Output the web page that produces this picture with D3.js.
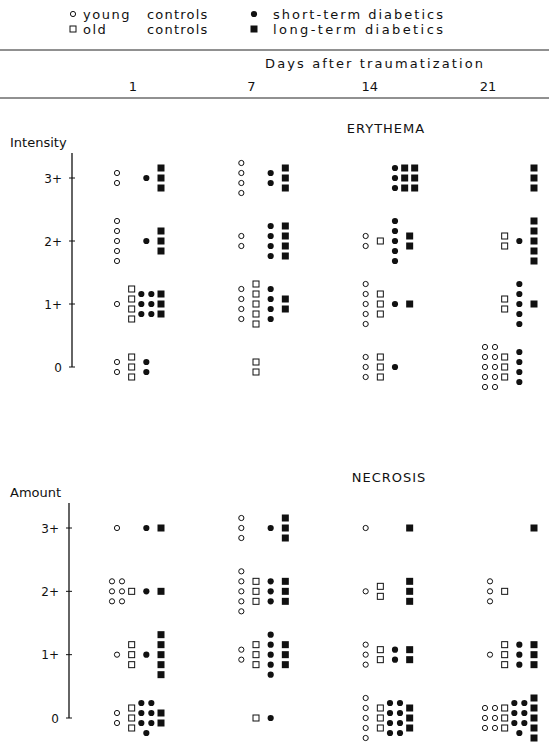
<!DOCTYPE html>
<html>
<head>
<meta charset="utf-8">
<script src="https://cdn.jsdelivr.net/npm/d3@7"></script>
<style>
  body { margin: 0; background: #fff; }
  text { font-family: "DejaVu Sans", sans-serif; fill: #111; }
</style>
</head>
<body>
<div id="chart"></div>
<script>
const width = 549, height = 754;

// categories
const days = ["1", "7", "14", "21"];
const levels = [0, 1, 2, 3];
const levelLabels = ["0", "1+", "2+", "3+"];
const groups = ["young", "old", "short", "long"];

// number of animals per day (rows) and score 0,1+,2+,3+ (columns)
const eryYoung = [[2, 1, 5, 2], [0, 4, 2, 4], [3, 5, 2, 0], [10, 0, 0, 0]];
const eryOld   = [[3, 4, 0, 0], [2, 5, 0, 0], [3, 3, 1, 0], [3, 2, 2, 0]];
const eryShort = [[2, 6, 1, 1], [0, 4, 4, 2], [1, 1, 5, 3], [4, 5, 1, 0]];
const eryLong  = [[0, 3, 3, 3], [0, 2, 4, 3], [0, 1, 2, 6], [0, 1, 5, 3]];

const necYoung = [[2, 1, 6, 1], [0, 2, 5, 3], [5, 3, 1, 1], [6, 1, 3, 0]];
const necOld   = [[3, 3, 1, 0], [1, 3, 3, 0], [3, 2, 2, 0], [3, 3, 1, 0]];
const necShort = [[7, 1, 1, 1], [1, 5, 3, 1], [8, 2, 0, 0], [7, 3, 0, 0]];
const necLong  = [[2, 5, 1, 1], [0, 3, 3, 3], [3, 2, 3, 1], [5, 3, 0, 1]];

const svg = d3.select("#chart").append("svg")
    .attr("width", width)
    .attr("height", height);

svg.append("rect").attr("width", width).attr("height", height).attr("fill", "#fff");

// Scales
const xDay = d3.scalePoint().domain(days).range([139, 512]);
const xGroup = d3.scalePoint().domain(groups).range([-22, 22]);
const xHead = d3.scalePoint().domain(days).range([133, 488]);
const gap = 10;

// Legend
const legendItems = [
    { g: "young", words: ["young", "controls"], x: 73, y: 14 },
    { g: "old", words: ["old", "controls"], x: 73, y: 29 },
    { g: "short", words: ["short-term diabetics"], x: 254, y: 14 },
    { g: "long", words: ["long-term diabetics"], x: 254, y: 29 }
];

function drawMark(sel, g) {
    if (g === "young") {
        sel.append("circle").attr("r", 2.6).attr("fill", "#fff").attr("stroke", "#111").attr("stroke-width", 1);
    } else if (g === "short") {
        sel.append("circle").attr("r", 3.1).attr("fill", "#111");
    } else if (g === "old") {
        sel.append("rect").attr("x", -3).attr("y", -3).attr("width", 6).attr("height", 6)
            .attr("fill", "#fff").attr("stroke", "#111").attr("stroke-width", 1);
    } else {
        sel.append("rect").attr("x", -3.5).attr("y", -3.5).attr("width", 7).attr("height", 7).attr("fill", "#111");
    }
}

legendItems.forEach(d => {
    const row = svg.append("g");
    drawMark(row.append("g").attr("transform", `translate(${d.x},${d.y})`), d.g);
    if (d.words.length === 2) {
        row.append("text").attr("x", d.x + 10).attr("y", d.y + 4.5)
            .attr("font-size", 13).attr("letter-spacing", 1.5).text(d.words[0]);
        row.append("text").attr("x", d.x + 74).attr("y", d.y + 4.5)
            .attr("font-size", 13).attr("letter-spacing", 1.2).text(d.words[1]);
    } else {
        row.append("text").attr("x", d.x + 19).attr("y", d.y + 4.5)
            .attr("font-size", 13).attr("textLength", 170).text(d.words[0]);
    }
});

// Header rules and day labels
svg.append("line").attr("x1", 0).attr("x2", width).attr("y1", 50).attr("y2", 50)
    .attr("stroke", "#222").attr("stroke-width", 1);
svg.append("line").attr("x1", 0).attr("x2", width).attr("y1", 98).attr("y2", 98)
    .attr("stroke", "#222").attr("stroke-width", 1);
svg.append("text").attr("x", 265).attr("y", 68).attr("font-size", 13)
    .attr("textLength", 218).text("Days after traumatization");
svg.selectAll(".day").data(days).join("text")
    .attr("class", "day")
    .attr("x", d => xHead(d)).attr("y", 91)
    .attr("text-anchor", "middle").attr("font-size", 13)
    .text(d => d);

// Dot arrangement inside one cell: up to 5 in a column, otherwise two columns
function arrange(n) {
    const cols = n > 5 ? 2 : 1;
    const rows = Math.ceil(n / cols);
    const out = [];
    for (let i = 0; i < n; i++) {
        const r = Math.floor(i / cols);
        const inRow = Math.min(cols, n - r * cols);
        out.push({ c: (i % cols) - (inRow - 1) / 2, r: r - (rows - 1) / 2 });
    }
    return out;
}

function drawPanel(opts) {
    const { title, titleX, titleY, yLabel, yLabelY, axisX, y, series } = opts;
    const panel = svg.append("g");

    panel.append("text").attr("x", titleX).attr("y", titleY)
        .attr("text-anchor", "middle").attr("font-size", 13).attr("letter-spacing", 1)
        .text(title);
    panel.append("text").attr("x", 10).attr("y", yLabelY).attr("font-size", 13).text(yLabel);

    // vertical axis
    panel.append("line")
        .attr("x1", axisX).attr("x2", axisX)
        .attr("y1", y(3) - 25).attr("y2", y(0))
        .attr("stroke", "#111").attr("stroke-width", 1.3);
    panel.selectAll(".tick").data(levels).join("line")
        .attr("class", "tick")
        .attr("x1", axisX - 3).attr("x2", axisX + 3)
        .attr("y1", d => y(d)).attr("y2", d => y(d))
        .attr("stroke", "#111");
    panel.selectAll(".ticklab").data(levels).join("text")
        .attr("class", "ticklab")
        .attr("x", axisX - 10).attr("y", d => y(d) + 4.5)
        .attr("text-anchor", "end").attr("font-size", 12)
        .text(d => levelLabels[d]);

    // dots
    const dots = [];
    groups.forEach((g, gi) => {
        days.forEach((day, di) => {
            levels.forEach(lv => {
                arrange(series[gi][di][lv]).forEach(p => {
                    dots.push({
                        g,
                        cx: xDay(day) + xGroup(g) + p.c * gap,
                        cy: y(lv) + p.r * gap
                    });
                });
            });
        });
    });

    panel.selectAll(".dot").data(dots).join("g")
        .attr("class", "dot")
        .attr("transform", d => `translate(${d.cx},${d.cy})`)
        .each(function (d) { drawMark(d3.select(this), d.g); });
}

drawPanel({
    title: "ERYTHEMA", titleX: 386, titleY: 133,
    yLabel: "Intensity", yLabelY: 147, axisX: 72,
    y: d3.scaleLinear().domain([0, 3]).range([367, 178]),
    series: [eryYoung, eryOld, eryShort, eryLong]
});

drawPanel({
    title: "NECROSIS", titleX: 389, titleY: 482,
    yLabel: "Amount", yLabelY: 497, axisX: 69,
    y: d3.scaleLinear().domain([0, 3]).range([718, 528]),
    series: [necYoung, necOld, necShort, necLong]
});
</script>
</body>
</html>
